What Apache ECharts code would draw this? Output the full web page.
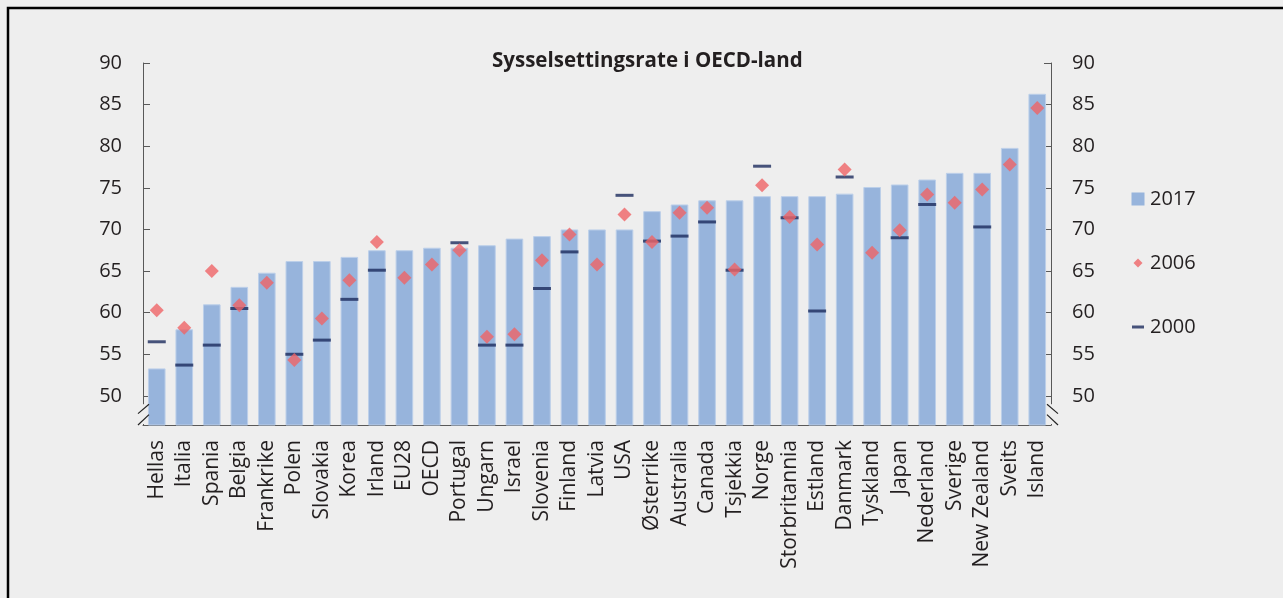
<!DOCTYPE html>
<html>
<head>
<meta charset="utf-8">
<script src="https://cdn.jsdelivr.net/npm/echarts@6/dist/echarts.min.js"></script>
<style>
  html, body { margin: 0; padding: 0; background: #eeeeee; }
  #chart { width: 1283px; height: 598px; }
</style>
</head>
<body>
<div id="chart"></div>
<script>
const countries = ['Hellas', 'Italia', 'Spania', 'Belgia', 'Frankrike', 'Polen', 'Slovakia', 'Korea', 'Irland', 'EU28', 'OECD',
  'Portugal', 'Ungarn', 'Israel', 'Slovenia', 'Finland', 'Latvia', 'USA', 'Østerrike', 'Australia', 'Canada', 'Tsjekkia',
  'Norge', 'Storbritannia', 'Estland', 'Danmark', 'Tyskland', 'Japan', 'Nederland', 'Sverige', 'New Zealand', 'Sveits', 'Island']

const rate2017 = [53.3, 58.0, 61.0, 63.1, 64.8, 66.2, 66.2, 66.7, 67.5, 67.5, 67.8,
  67.8, 68.1, 68.9, 69.2, 70.0, 70.0, 70.0, 72.2, 73.0, 73.5, 73.5,
  74.0, 74.0, 74.0, 74.3, 75.1, 75.4, 76.0, 76.8, 76.8, 79.8, 86.3]

const rate2006 = [60.3, 58.2, 65.0, 60.9, 63.6, 54.3, 59.3, 63.9, 68.5, 64.2, 65.8,
  67.5, 57.1, 57.4, 66.3, 69.4, 65.8, 71.8, 68.5, 72.0, 72.6, 65.2,
  75.3, 71.5, 68.2, 77.2, 67.2, 69.9, 74.2, 73.2, 74.8, 77.8, 84.6]

const rate2000 = [56.5, 53.7, 56.1, 60.5, null, 55.0, 56.7, 61.6, 65.1, null, null,
  68.4, 56.1, 56.1, 62.9, 67.3, null, 74.1, 68.6, 69.2, 70.9, 65.1,
  77.6, 71.4, 60.2, 76.3, null, 69.0, 73.0, null, 70.3, null, null]

const yTicks = [50, 55, 60, 65, 70, 75, 80, 85, 90]
const yMin = 46.5
const yMax = 90

const font = 'Open Sans'
const textColor = '#231f20'

const chart = echarts.init(document.getElementById('chart'))

function valueAxis(pos) {
  return {
    type: 'value',
    position: pos,
    min: yMin,
    max: yMax,
    splitLine: { show: false },
    axisLine: { show: true, lineStyle: { color: '#595959', width: 1 } },
    axisTick: { show: true, inside: true, length: 7, customValues: yTicks, lineStyle: { color: '#595959' } },
    axisLabel: {
      customValues: yTicks,
      margin: 21,
      color: textColor,
      fontFamily: font,
      fontSize: 20
    }
  }
}

chart.setOption({
  backgroundColor: '#eeeeee',
  animation: false,
  title: {
    text: 'Sysselsettingsrate i OECD-land',
    left: 487,
    top: 46,
    textStyle: { fontFamily: font, fontSize: 20.5, fontWeight: 'bold', color: textColor }
  },
  grid: { left: 143, right: 232, top: 63, bottom: 173 },
  legend: {
    orient: 'vertical',
    left: 1126,
    top: 184,
    itemGap: 44,
    itemWidth: 14,
    itemHeight: 14,
    textStyle: { fontFamily: font, fontSize: 20, color: textColor },
    data: [
      { name: '2017', icon: 'path://M0,0M0.5,0.5H13.5V13.5H0.5ZM14,14', itemStyle: { borderWidth: 0 } },
      { name: '2006', icon: 'path://M0,0M7,2.5L11.5,7L7,11.5L2.5,7ZM14,14' },
      { name: '2000', icon: 'path://M0,0M1,5.5H13V8.5H1ZM14,14' }
    ]
  },
  xAxis: {
    type: 'category',
    data: countries,
    axisLine: { lineStyle: { color: '#595959', width: 1 } },
    axisTick: { show: false },
    axisLabel: {
      rotate: 90,
      interval: 0,
      margin: 15,
      color: textColor,
      fontFamily: font,
      fontSize: 21
    }
  },
  yAxis: [valueAxis('left'), valueAxis('right')],
  series: [
    {
      name: '2017',
      type: 'bar',
      data: rate2017,
      barCategoryGap: '36%',
      itemStyle: { color: '#97b4dc', borderColor: '#bccfe9', borderWidth: 1 }
    },
    {
      name: '2006',
      type: 'scatter',
      data: rate2006,
      symbol: 'diamond',
      symbolSize: 14,
      itemStyle: { color: '#ef6466' },
      z: 4
    },
    {
      name: '2000',
      type: 'scatter',
      data: rate2000,
      symbol: 'rect',
      symbolSize: [18, 3],
      itemStyle: { color: '#1c2a5c' },
      z: 3
    }
  ]
})

// frame and axis break marks
const pTop = chart.convertToPixel({ yAxisIndex: 0 }, 49.0)
const pMid = chart.convertToPixel({ yAxisIndex: 0 }, 47.75)
const pBot = chart.convertToPixel({ yAxisIndex: 0 }, yMin)
const xl = 143, xr = 1051
function brk(x, dir, y1, y2) {
  return {
    type: 'line',
    shape: { x1: x - 5, y1: dir > 0 ? y2 : y1, x2: x + 6, y2: dir > 0 ? y1 : y2 },
    style: { stroke: '#222', lineWidth: 1.2 },
    z: 100
  }
}
chart.setOption({
  graphic: [
    { type: 'rect', shape: { x: 8, y: 8, width: 1400, height: 700 }, style: { fill: 'none', stroke: '#000', lineWidth: 2.5 }, z: 100 },
    { type: 'rect', shape: { x: xl - 2, y: pTop, width: 3, height: pBot - pTop - 1 }, style: { fill: '#eeeeee' }, z: 99 },
    { type: 'rect', shape: { x: xr - 1, y: pTop, width: 3, height: pBot - pTop - 1 }, style: { fill: '#eeeeee' }, z: 99 },
    brk(xl, 1, pTop, pMid - 1),
    brk(xl, 1, pMid, pBot),
    brk(xr + 1, -1, pTop, pMid - 1),
    brk(xr + 1, -1, pMid, pBot)
  ]
})
</script>
</body>
</html>
